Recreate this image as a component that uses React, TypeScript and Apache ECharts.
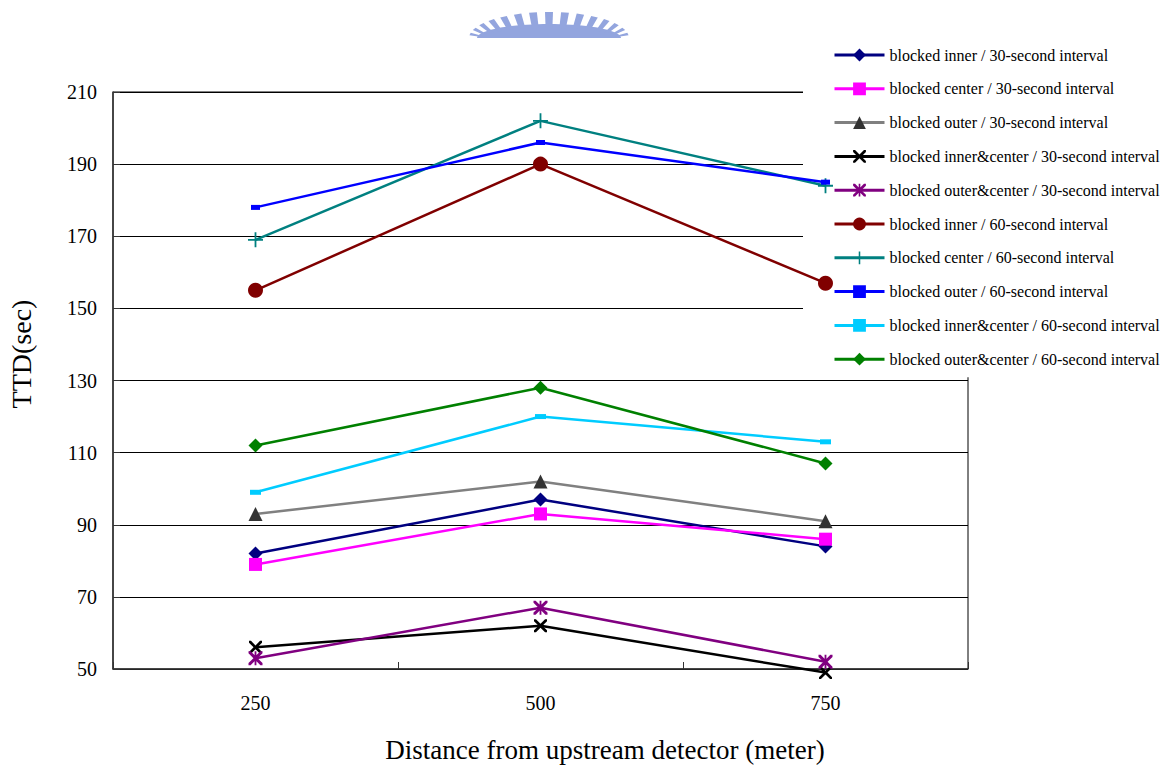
import React, { useEffect, useRef } from "react";
import * as echarts from "echarts";

const categories = ["250", "500", "750"];

const seriesNames = [
  "blocked inner / 30-second interval",
  "blocked center / 30-second interval",
  "blocked outer / 30-second interval",
  "blocked inner&center / 30-second interval",
  "blocked outer&center / 30-second interval",
  "blocked inner / 60-second interval",
  "blocked center / 60-second interval",
  "blocked outer / 60-second interval",
  "blocked inner&center / 60-second interval",
  "blocked outer&center / 60-second interval",
];

const inner30 = [82, 97, 84];
const center30 = [79, 93, 86];
const outer30 = [93, 102, 91];
const innerCenter30 = [56, 62, 49];
const outerCenter30 = [53, 67, 52];
const inner60 = [155, 190, 157];
const center60 = [169, 202, 184];
const outer60 = [178, 196, 185];
const innerCenter60 = [99, 120, 113];
const outerCenter60 = [112, 128, 107];

const yMin = 50;
const yMax = 210;
const yStep = 20;

const FONT = "'Liberation Serif', 'Times New Roman', serif";

const X_PATH =
  "path://M0,0 L3,0 L10,7 L17,0 L20,0 L20,3 L13,10 L20,17 L20,20 L17,20 L10,13 L3,20 L0,20 L0,17 L7,10 L0,3 Z";
const PLUS_PATH =
  "path://M8.8,0 L11.2,0 L11.2,8.8 L20,8.8 L20,11.2 L11.2,11.2 L11.2,20 L8.8,20 L8.8,11.2 L0,11.2 L0,8.8 L8.8,8.8 Z";
const STAR_PATH =
  "path://M0,0 L3,0 L10,7 L17,0 L20,0 L20,3 L13,10 L20,17 L20,20 L17,20 L10,13 L3,20 L0,20 L0,17 L7,10 L0,3 Z M8.7,0 L11.3,0 L11.3,20 L8.7,20 Z";

function watermark(): any[] {
  const cx = 549;
  const cy = 38;
  const color = "#93a5de";
  const els: any[] = [];
  const body: number[][] = [];
  for (let i = 0; i <= 40; i++) {
    const t = Math.PI - (Math.PI * i) / 40;
    body.push([cx + 72 * Math.cos(t), Math.min(38, cy - 14 * Math.sin(t))]);
  }
  els.push({ type: "polygon", shape: { points: body }, style: { fill: color }, silent: true });
  const n = 15;
  for (let k = 0; k < n; k++) {
    const t = Math.PI * (0.95 - (k * 0.9) / (n - 1));
    const dt = 0.05;
    const p = (rx: number, ry: number, a: number) => [
      cx + rx * Math.cos(a),
      Math.min(38, cy - ry * Math.sin(a)),
    ];
    els.push({
      type: "polygon",
      shape: { points: [p(68, 10, t - dt), p(80, 26, t - dt), p(80, 26, t + dt), p(68, 10, t + dt)] },
      style: { fill: color },
      silent: true,
    });
  }
  return els;
}

export default function App() {
  const ref = useRef<HTMLDivElement>(null);

  useEffect(() => {
    if (!ref.current) return;
    const chart = echarts.init(ref.current, null, { renderer: "svg" });

    const mk = (
      name: string,
      data: number[],
      color: string,
      symbol: string,
      size: any,
      symbolColor?: string
    ) => ({
      name,
      type: "line",
      data,
      clip: false,
      symbol,
      symbolSize: size,
      showSymbol: true,
      lineStyle: { color, width: 2.5 },
      itemStyle: { color: symbolColor || color, borderWidth: 0 },
      emphasis: { disabled: true },
      z: 3,
    });

    const series = [
      mk(seriesNames[0], inner30, "#000080", "diamond", 14),
      mk(seriesNames[1], center30, "#ff00ff", "rect", 13),
      mk(seriesNames[2], outer30, "#808080", "triangle", 14, "#333333"),
      mk(seriesNames[3], innerCenter30, "#000000", X_PATH, 13),
      mk(seriesNames[4], outerCenter30, "#800080", STAR_PATH, 14),
      mk(seriesNames[5], inner60, "#800000", "circle", 15),
      mk(seriesNames[6], center60, "#008080", PLUS_PATH, 15),
      mk(seriesNames[7], outer60, "#0000ff", "rect", [9, 5]),
      mk(seriesNames[8], innerCenter60, "#00ccff", "rect", [11, 5]),
      mk(seriesNames[9], outerCenter60, "#008000", "diamond", 14),
    ];

    chart.setOption({
      animation: false,
      backgroundColor: "#ffffff",
      textStyle: { fontFamily: FONT },
      grid: {
        left: 113,
        top: 92,
        right: 200,
        bottom: 98,
        show: true,
        borderColor: "#000000",
        borderWidth: 1,
        backgroundColor: "transparent",
        z: 0,
      },
      legend: {
        orient: "vertical",
        left: 803,
        top: 30,
        padding: [17, 10, 10, 30],
        itemWidth: 50,
        itemHeight: 16,
        itemGap: 17.8,
        backgroundColor: "#ffffff",
        z: 1,
        selectedMode: false,
        lineStyle: { width: 3 },
        textStyle: { fontFamily: FONT, fontSize: 16, color: "#000000" },
        data: seriesNames,
      },
      xAxis: {
        type: "category",
        data: categories,
        boundaryGap: true,
        axisLine: { lineStyle: { color: "#333333", width: 1.5 } },
        axisTick: { show: true, inside: true, length: 7, lineStyle: { color: "#333333" } },
        axisLabel: { fontFamily: FONT, fontSize: 20, color: "#000000", margin: 24 },
        splitLine: { show: false },
      },
      yAxis: {
        type: "value",
        min: yMin,
        max: yMax,
        interval: yStep,
        axisLine: { show: true, lineStyle: { color: "#333333", width: 1.5 } },
        axisTick: { show: true, inside: true, length: 7, lineStyle: { color: "#333333" } },
        axisLabel: { fontFamily: FONT, fontSize: 20, color: "#000000", margin: 16 },
        splitLine: { show: true, lineStyle: { color: "#000000", width: 1 } },
      },
      graphic: [
        ...watermark(),
        {
          type: "text",
          x: 21,
          y: 354,
          rotation: Math.PI / 2,
          style: {
            text: "TTD(sec)",
            fontFamily: FONT,
            fontSize: 28,
            fill: "#000000",
            align: "center",
            verticalAlign: "middle",
          },
        },
        {
          type: "text",
          x: 605,
          y: 750,
          style: {
            text: "Distance from upstream detector (meter)",
            fontFamily: FONT,
            fontSize: 27,
            fill: "#000000",
            align: "center",
            verticalAlign: "middle",
          },
        },
      ],
      series,
    });

    return () => chart.dispose();
  }, []);

  return (
    <div
      ref={ref}
      style={{ position: "fixed", left: 0, top: 0, width: 1168, height: 767 }}
    />
  );
}
